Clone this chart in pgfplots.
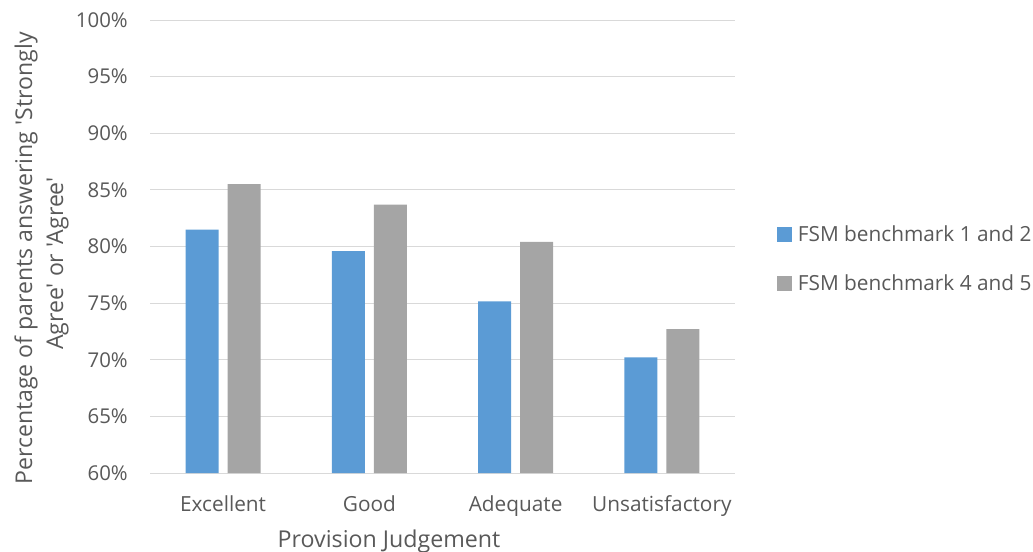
\documentclass[border=0pt]{standalone}
\usepackage{pgfplots}
\pgfplotsset{compat=1.18}
\usepackage{fontspec}
\setmainfont{Open Sans}[Ligatures=TeXOff]
\definecolor{bluebar}{HTML}{5B9BD5}
\definecolor{graybar}{HTML}{A5A5A5}
\definecolor{gridc}{HTML}{D9D9D9}
\definecolor{txt}{HTML}{595959}
\begin{document}
\begin{tikzpicture}
\useasboundingbox (0,0) rectangle (774.75pt,413.25pt);
\begin{axis}[
  at={(112.5pt,58.5pt)}, anchor=south west,
  scale only axis, width=438.75pt, height=339.75pt,
  ybar=6.75pt, bar width=24.75pt,
  xmin=-0.5, xmax=3.5, ymin=60, ymax=100,
  ytick={60,65,...,100},
  yticklabel={\pgfmathprintnumber{\tick}\%},
  /pgf/number format/assume math mode=true,
  xtick={0,1,2,3},
  xticklabels={Excellent,Good,Adequate,Unsatisfactory},
  ymajorgrids, grid style={gridc, line width=0.75pt},
  axis x line*=bottom, axis y line*=left,
  x axis line style={gridc, line width=0.75pt, -},
  y axis line style={draw=none},
  major tick length=0pt,
  tick label style={text=txt},
  yticklabel style={font=\fontsize{15.3}{18}\selectfont, inner sep=0pt, anchor=east, xshift=-16.5pt},
  xticklabel style={font=\fontsize{15.6}{18}\selectfont, inner sep=0pt, anchor=base, yshift=-29pt},
  legend style={at={(axis description cs:1.0718,0.4724)}, anchor=west, draw=none, fill=none,
    inner sep=0pt,
    font=\fontsize{15.6}{18}\selectfont, text=txt, row sep=21.5pt,
    nodes={inner sep=1pt},
    /tikz/every odd column/.append style={column sep=3.75pt}},
  legend cell align=left,
  legend image code/.code={\fill[#1] (0pt,-5.35pt) rectangle (10.7pt,5.35pt);},
]
\addplot[fill=bluebar, draw=none] coordinates {(0,81.5) (1,79.6) (2,75.15) (3,70.2)};
\addplot[fill=graybar, draw=none] coordinates {(0,85.5) (1,83.7) (2,80.4) (3,72.7)};
\legend{FSM benchmark 1 and 2, FSM benchmark 4 and 5}
\end{axis}
\node[rotate=90, anchor=base, text=txt, font=\fontsize{17.3}{20}\selectfont, inner sep=0pt] at (24pt,219.4pt) {Percentage of parents answering 'Strongly};
\node[rotate=90, anchor=base, text=txt, font=\fontsize{17.3}{20}\selectfont, inner sep=0pt] at (47.25pt,215.6pt) {Agree' or 'Agree'};
\node[anchor=base, text=txt, font=\fontsize{17.4}{20}\selectfont, inner sep=0pt] at (291.75pt,3pt) {Provision Judgement};
\end{tikzpicture}
\end{document}
